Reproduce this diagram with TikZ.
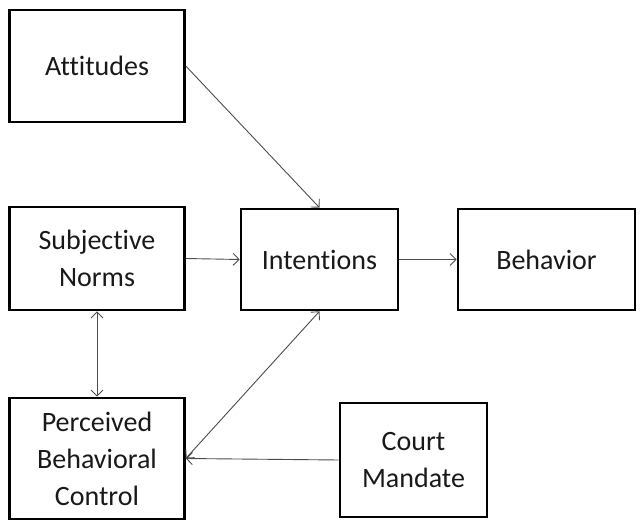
\documentclass[tikz,border=0pt]{standalone}
\usepackage{fontspec}
\setmainfont{Carlito}[Ligatures=NoCommon]
\usepackage{tikz}
\usetikzlibrary{positioning,arrows.meta}

\begin{document}
\begin{tikzpicture}[
    x=1pt, y=-1pt,
    >={Straight Barb[length=6pt,width=12pt]},
    every node/.style={draw, line width=2.6pt, align=center, inner sep=0pt,
        font=\fontsize{28}{37}\selectfont, text=black!90},
    link/.style={->, line width=0.9pt, black!70}
]
\useasboundingbox (0,0) rectangle (641,521);
\node[minimum width=175pt, minimum height=112pt] (att) at (97,66) {Attitudes};
\node[minimum width=175pt, minimum height=103pt] (sn) at (97,258.5) {Subjective\\Norms};
\node[minimum width=157pt, minimum height=101pt] (int) at (319.5,259.5) {Intentions};
\node[minimum width=177pt, minimum height=101pt] (beh) at (546.5,259.5) {Behavior};
\node[minimum width=175pt, minimum height=121pt] (pbc) at (97,458.5) {Perceived\\Behavioral\\Control};
\node[minimum width=147pt, minimum height=114pt] (court) at (413.5,460) {Court\\Mandate};

\draw[link] (att.east) -- (int.north);
\draw[link] (sn.east) -- (int.west);
\draw[link] (int.east) -- (beh.west);
\draw[link, <->] (sn.south) -- (pbc.north);
\draw[link, <->] (pbc.east) -- (int.south);
\draw[link] (court.west) -- (pbc.east);
\end{tikzpicture}
\end{document}
